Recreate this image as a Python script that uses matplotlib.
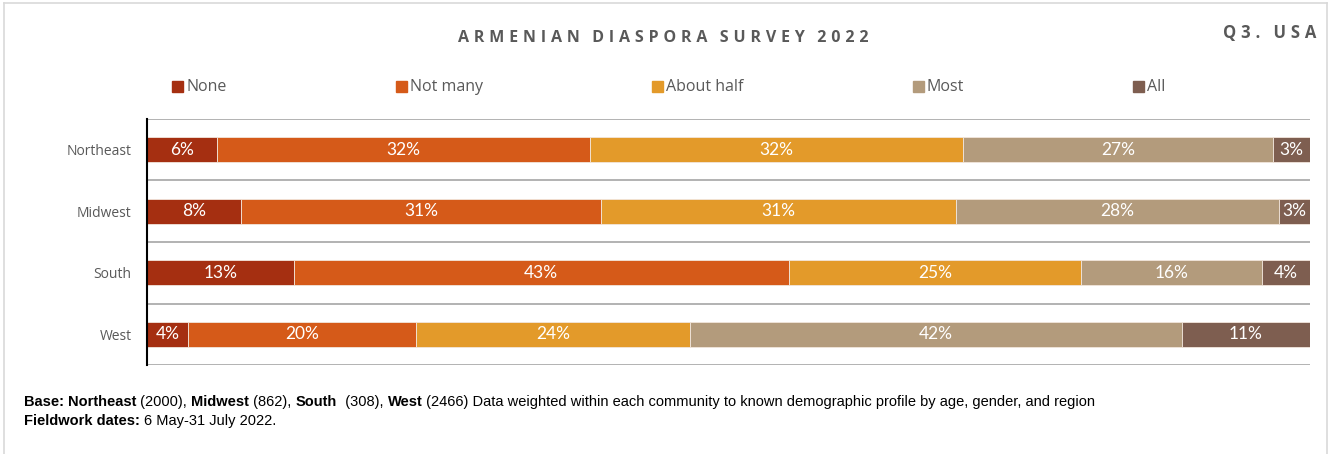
import matplotlib
matplotlib.use("Agg")
import matplotlib.pyplot as plt
from matplotlib.patches import Rectangle
from matplotlib.lines import Line2D
from matplotlib.text import Annotation
import numpy as np

regions = ["Northeast", "Midwest", "South", "West"]
categories = ["None", "Not many", "About half", "Most", "All"]
none_vals = [6.0, 8.1, 12.6, 3.5]
not_many_vals = [32.1, 30.9, 42.6, 19.6]
about_half_vals = [32.1, 30.6, 25.1, 23.6]
most_vals = [26.6, 27.7, 15.6, 42.3]
all_vals = [3.2, 2.7, 4.1, 11.0]
colors = ["#A52F11", "#D55A19", "#E39A2A", "#B39B7C", "#7E5E50"]

series = [none_vals, not_many_vals, about_half_vals, most_vals, all_vals]

fig = plt.figure(figsize=(13.34, 4.54), dpi=100)
W, H = 1334, 454

def fx(px):
    return px / W

def fy(py):
    return 1 - py / H

# outer frame
fig.add_artist(Line2D([fx(4), fx(1327)], [fy(3), fy(3)], color="#D9D9D9", lw=1.2))
fig.add_artist(Line2D([fx(4), fx(4)], [fy(3), 0], color="#D9D9D9", lw=1.2))
fig.add_artist(Line2D([fx(1327), fx(1327)], [fy(3), 0], color="#D9D9D9", lw=1.2))

ax = fig.add_axes([fx(147), fy(365), fx(1310) - fx(147), fy(119) - fy(365)])
y = np.arange(len(regions))
left = np.zeros(len(regions))
for vals, col in zip(series, colors):
    v = np.array(vals)
    ax.barh(y, v, left=left, height=0.41, color=col, edgecolor="#F2E6DC", linewidth=0.6)
    for yi, (l, w) in enumerate(zip(left, v)):
        ax.text(l + w / 2, yi, f"{w:.0f}%", ha="center", va="center", color="white",
                fontsize=12.5, family=["Lato", "DejaVu Sans"])
    left += v

ax.set_xlim(0, left.max())
ax.set_ylim(len(regions) - 0.5, -0.5)
for b in np.arange(-0.5, len(regions), 1.0):
    ax.axhline(b, color="#A6A6A6", lw=1.2, zorder=0)
for s in ["top", "right", "bottom"]:
    ax.spines[s].set_visible(False)
ax.spines["left"].set_color("black")
ax.spines["left"].set_linewidth(1.5)
ax.set_xticks([])
ax.set_yticks(y)
ax.set_yticklabels(regions, fontsize=10, color="#595959", family="Open Sans")
ax.tick_params(axis="y", length=0, pad=11)

# title
sp = "\u200a"

def spaced(s, n):
    return (sp * n).join(list(s)).replace(sp * n + " " + sp * n, "   ")

fig.text(fx(663), fy(38), spaced("ARMENIAN DIASPORA SURVEY 2022", 3), ha="center", va="center",
         fontsize=11.5, fontweight="bold", color="#595959", family=["Open Sans", "DejaVu Sans"])
fig.text(fx(1316), fy(33), spaced("Q3. USA", 3), ha="right", va="center", fontsize=12,
         fontweight="bold", color="#595959", family=["Open Sans", "DejaVu Sans"])

# legend
leg_x = [172, 396, 652, 913, 1133]
for lx, lab, col in zip(leg_x, categories, colors):
    fig.add_artist(Rectangle((fx(lx), fy(92)), fx(11), 11 / H, color=col, transform=fig.transFigure))
    fig.text(fx(lx + 14), fy(87), lab, ha="left", va="center", fontsize=11.5,
             color="#595959", family="Open Sans")

# footnote
fn_font = ["Liberation Sans Narrow", "Liberation Sans", "DejaVu Sans"]
pieces1 = [("Base: ", True), ("Northeast", True), (" (2000), ", False), ("Midwest", True),
           (" (862), ", False), ("South", True), ("  (308), ", False), ("West", True),
           (" (2466) Data weighted within each community to known demographic profile by age, gender, and region", False)]
pieces2 = [("Fieldwork dates: ", True), ("6 May-31 July 2022.", False)]


def write_line(pieces, x0, y0):
    last = None
    for txt, bold in pieces:
        kw = dict(fontsize=10.5, color="black", family=fn_font,
                  fontweight="bold" if bold else "normal", va="bottom", ha="left")
        if last is None:
            last = fig.text(x0, y0, txt, **kw)
        else:
            last = fig.add_artist(Annotation(txt, xy=(1, 0), xycoords=last, **kw))


write_line(pieces1, fx(24), fy(409))
write_line(pieces2, fx(24), fy(428))

fig.savefig("out.png", dpi=100)
